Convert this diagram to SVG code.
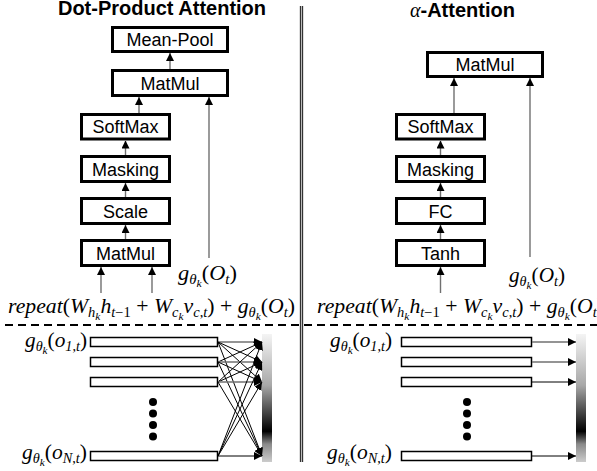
<svg xmlns="http://www.w3.org/2000/svg" width="597" height="471" viewBox="0 0 597 471">
<style>
.box{fill:#fff;stroke:#000;stroke-width:3}
.lbl{font-family:"Liberation Sans",Arial,sans-serif;font-size:18px;text-anchor:middle;fill:#000}
.title{font-family:"Liberation Sans",Arial,sans-serif;font-size:20px;font-weight:bold;fill:#000}
.m{font-family:"Liberation Serif","Times New Roman",serif;font-style:italic;fill:#000}
.u{font-style:normal}
.shaft{stroke:#707070;stroke-width:1.4;fill:none;marker-end:url(#ah)}
.fan{stroke:#000;stroke-width:1;fill:none;marker-end:url(#ah)}
.fang{stroke:#707070;stroke-width:1.4;fill:none;marker-end:url(#ah)}
.bar{fill:#fff;stroke:#000;stroke-width:1.5}
</style>
<defs>
<marker id="ah" markerWidth="8" markerHeight="8" refX="8" refY="4" orient="auto" markerUnits="userSpaceOnUse"><path d="M0,0 L8,4 L0,8 z" fill="#000"/></marker>
<linearGradient id="grad" x1="0" y1="0" x2="0" y2="1">
<stop offset="0" stop-color="#f4f4f4"/>
<stop offset="0.4" stop-color="#a8a8a8"/>
<stop offset="0.76" stop-color="#000"/>
<stop offset="0.86" stop-color="#8a8a8a"/>
<stop offset="1" stop-color="#cccccc"/>
</linearGradient>
</defs>
<rect width="597" height="471" fill="#fff"/>

<!-- titles -->
<text class="title" x="162" y="15" text-anchor="middle">Dot-Product Attention</text>
<text class="title" x="410" y="17"><tspan class="m" font-weight="normal">α</tspan>-Attention</text>

<!-- separators -->
<g id="separators">
<rect x="299.5" y="6" width="4" height="456" fill="#bbb"/>
<line x1="300.5" y1="6" x2="300.5" y2="462" stroke="#333" stroke-width="1"/>
<line x1="302.5" y1="6" x2="302.5" y2="462" stroke="#333" stroke-width="1"/>
<line x1="5" y1="325" x2="597" y2="325" stroke="#000" stroke-width="2" stroke-dasharray="8,5"/>
</g>

<!-- left nodes -->
<g id="l-meanpool"><rect class="box" x="112.5" y="27.5" width="115" height="24"/><text class="lbl" x="170" y="46">Mean-Pool</text></g>
<g id="l-matmul-top"><rect class="box" x="112.5" y="70.5" width="115" height="25"/><text class="lbl" x="170" y="90">MatMul</text></g>
<g id="l-softmax"><rect class="box" x="81.5" y="114.5" width="88" height="24.5"/><text class="lbl" x="125.5" y="133">SoftMax</text></g>
<g id="l-masking"><rect class="box" x="81.5" y="156.5" width="88" height="25"/><text class="lbl" x="125.5" y="175.5">Masking</text></g>
<g id="l-scale"><rect class="box" x="81.5" y="198.5" width="88" height="25"/><text class="lbl" x="125.5" y="217.5">Scale</text></g>
<g id="l-matmul-bot"><rect class="box" x="81.5" y="240.5" width="88" height="25"/><text class="lbl" x="125.5" y="259.5">MatMul</text></g>

<!-- right nodes -->
<g id="r-matmul"><rect class="box" x="427.5" y="52.5" width="115" height="24"/><text class="lbl" x="485" y="71">MatMul</text></g>
<g id="r-softmax"><rect class="box" x="396.5" y="114.5" width="88" height="24.5"/><text class="lbl" x="440.5" y="133">SoftMax</text></g>
<g id="r-masking"><rect class="box" x="396.5" y="156.5" width="88" height="25"/><text class="lbl" x="440.5" y="175.5">Masking</text></g>
<g id="r-fc"><rect class="box" x="396.5" y="198.5" width="88" height="25"/><text class="lbl" x="440.5" y="217.5">FC</text></g>
<g id="r-tanh"><rect class="box" x="396.5" y="240.5" width="88" height="25"/><text class="lbl" x="440.5" y="259.5">Tanh</text></g>

<!-- math labels -->
<g id="l-go"><text class="m" x="178" y="280" font-size="21" textLength="59" lengthAdjust="spacingAndGlyphs">g<tspan font-size="14" dy="4">θ</tspan><tspan font-size="11" dy="3">k</tspan><tspan class="u" dy="-7">(</tspan>O<tspan font-size="14" dy="4">t</tspan><tspan class="u" dy="-4">)</tspan></text></g>
<g id="r-go"><text class="m" x="509" y="282" font-size="21" textLength="56" lengthAdjust="spacingAndGlyphs">g<tspan font-size="14" dy="4">θ</tspan><tspan font-size="11" dy="3">k</tspan><tspan class="u" dy="-7">(</tspan>O<tspan font-size="14" dy="4">t</tspan><tspan class="u" dy="-4">)</tspan></text></g>

<g id="l-formula"><text class="m" x="8" y="313" font-size="21" textLength="287" lengthAdjust="spacingAndGlyphs">repeat<tspan class="u">(</tspan>W<tspan font-size="14" dy="4">h</tspan><tspan font-size="11" dy="3">k</tspan><tspan dy="-7">h</tspan><tspan font-size="14" dy="4">t<tspan class="u">−1</tspan></tspan><tspan class="u" dy="-4"> + </tspan>W<tspan font-size="14" dy="4">c</tspan><tspan font-size="11" dy="3">k</tspan><tspan dy="-7">v</tspan><tspan font-size="14" dy="4">c<tspan class="u">,</tspan>t</tspan><tspan class="u" dy="-4">) + </tspan>g<tspan font-size="14" dy="4">θ</tspan><tspan font-size="11" dy="3">k</tspan><tspan class="u" dy="-7">(</tspan>O<tspan font-size="14" dy="4">t</tspan><tspan class="u" dy="-4">)</tspan></text></g>
<g id="r-formula"><text class="m" x="317" y="313" font-size="21" textLength="287" lengthAdjust="spacingAndGlyphs">repeat<tspan class="u">(</tspan>W<tspan font-size="14" dy="4">h</tspan><tspan font-size="11" dy="3">k</tspan><tspan dy="-7">h</tspan><tspan font-size="14" dy="4">t<tspan class="u">−1</tspan></tspan><tspan class="u" dy="-4"> + </tspan>W<tspan font-size="14" dy="4">c</tspan><tspan font-size="11" dy="3">k</tspan><tspan dy="-7">v</tspan><tspan font-size="14" dy="4">c<tspan class="u">,</tspan>t</tspan><tspan class="u" dy="-4">) + </tspan>g<tspan font-size="14" dy="4">θ</tspan><tspan font-size="11" dy="3">k</tspan><tspan class="u" dy="-7">(</tspan>O<tspan font-size="14" dy="4">t</tspan><tspan class="u" dy="-4">)</tspan></text></g>

<!-- bottom left -->
<g id="l-bars">
<rect class="bar" x="90.5" y="337.5" width="127" height="9"/>
<rect class="bar" x="90.5" y="357.5" width="127" height="9"/>
<rect class="bar" x="90.5" y="377.5" width="127" height="9"/>
<rect class="bar" x="90.5" y="451.5" width="127" height="9"/>
<circle cx="153" cy="402" r="4"/><circle cx="153" cy="413.5" r="4"/><circle cx="153" cy="425" r="4"/><circle cx="153" cy="436.5" r="4"/>
<rect x="262" y="334" width="10" height="128" fill="url(#grad)"/>
</g>
<g id="l-olabels">
<text class="m" x="25" y="347" font-size="21" textLength="62" lengthAdjust="spacingAndGlyphs">g<tspan font-size="14" dy="4">θ</tspan><tspan font-size="11" dy="3">k</tspan><tspan class="u" dy="-7">(</tspan>o<tspan font-size="14" dy="4">1<tspan class="u">,</tspan>t</tspan><tspan class="u" dy="-4">)</tspan></text>
<text class="m" x="22" y="459" font-size="21" textLength="65" lengthAdjust="spacingAndGlyphs">g<tspan font-size="14" dy="4">θ</tspan><tspan font-size="11" dy="3">k</tspan><tspan class="u" dy="-7">(</tspan>o<tspan font-size="14" dy="4">N<tspan class="u">,</tspan>t</tspan><tspan class="u" dy="-4">)</tspan></text>
</g>

<!-- bottom right -->
<g id="r-bars">
<rect class="bar" x="401.5" y="337.5" width="130" height="9"/>
<rect class="bar" x="401.5" y="357.5" width="130" height="9"/>
<rect class="bar" x="401.5" y="377.5" width="130" height="9"/>
<rect class="bar" x="401.5" y="451.5" width="130" height="9"/>
<circle cx="467" cy="402" r="4"/><circle cx="467" cy="413.5" r="4"/><circle cx="467" cy="425" r="4"/><circle cx="467" cy="436.5" r="4"/>
<rect x="576" y="334" width="10" height="128" fill="url(#grad)"/>
</g>
<g id="r-olabels">
<text class="m" x="330" y="347" font-size="21" textLength="62" lengthAdjust="spacingAndGlyphs">g<tspan font-size="14" dy="4">θ</tspan><tspan font-size="11" dy="3">k</tspan><tspan class="u" dy="-7">(</tspan>o<tspan font-size="14" dy="4">1<tspan class="u">,</tspan>t</tspan><tspan class="u" dy="-4">)</tspan></text>
<text class="m" x="327" y="459" font-size="21" textLength="65" lengthAdjust="spacingAndGlyphs">g<tspan font-size="14" dy="4">θ</tspan><tspan font-size="11" dy="3">k</tspan><tspan class="u" dy="-7">(</tspan>o<tspan font-size="14" dy="4">N<tspan class="u">,</tspan>t</tspan><tspan class="u" dy="-4">)</tspan></text>
</g>

<!-- connectors -->
<g id="connectors">
<line class="shaft" x1="170" y1="69" x2="170" y2="53"/>
<line class="shaft" x1="139" y1="113" x2="139" y2="97"/>
<line class="shaft" x1="209" y1="258" x2="209" y2="97"/>
<line class="shaft" x1="125.5" y1="155" x2="125.5" y2="140.5"/>
<line class="shaft" x1="125.5" y1="197" x2="125.5" y2="183"/>
<line class="shaft" x1="125.5" y1="239" x2="125.5" y2="225"/>
<line class="shaft" x1="101" y1="293" x2="101" y2="267"/>
<line class="shaft" x1="152" y1="293" x2="152" y2="267"/>

<line class="shaft" x1="454" y1="113" x2="454" y2="78"/>
<line class="shaft" x1="530" y1="257" x2="530" y2="78" stroke="#000" stroke-width="1"/>
<line class="shaft" x1="440.5" y1="155" x2="440.5" y2="140.5"/>
<line class="shaft" x1="440.5" y1="197" x2="440.5" y2="183"/>
<line class="shaft" x1="440.5" y1="239" x2="440.5" y2="225"/>
<line class="shaft" x1="440.5" y1="293" x2="440.5" y2="267" stroke="#000"/>

<!-- fully connected fan -->
<line class="fang" x1="218" y1="342" x2="262" y2="342"/>
<line class="fan" x1="218" y1="342" x2="262" y2="362"/>
<line class="fan" x1="218" y1="342" x2="262" y2="382"/>
<line class="fan" x1="218" y1="342" x2="262" y2="456"/>
<line class="fan" x1="218" y1="362" x2="262" y2="342"/>
<line class="fang" x1="218" y1="362" x2="262" y2="362"/>
<line class="fan" x1="218" y1="362" x2="262" y2="382"/>
<line class="fan" x1="218" y1="362" x2="262" y2="456"/>
<line class="fan" x1="218" y1="382" x2="262" y2="342"/>
<line class="fan" x1="218" y1="382" x2="262" y2="362"/>
<line class="fang" x1="218" y1="382" x2="262" y2="382"/>
<line class="fan" x1="218" y1="382" x2="262" y2="456"/>
<line class="fan" x1="218" y1="456" x2="262" y2="342"/>
<line class="fan" x1="218" y1="456" x2="262" y2="362"/>
<line class="fan" x1="218" y1="456" x2="262" y2="382"/>
<line class="fan" x1="218" y1="456" x2="262" y2="456"/>

<line class="fang" x1="532" y1="342" x2="576" y2="342"/>
<line class="fang" x1="532" y1="362" x2="576" y2="362"/>
<line class="fan" x1="532" y1="382" x2="576" y2="382"/>
<line class="fan" x1="532" y1="456" x2="576" y2="456"/>
</g>
</svg>
